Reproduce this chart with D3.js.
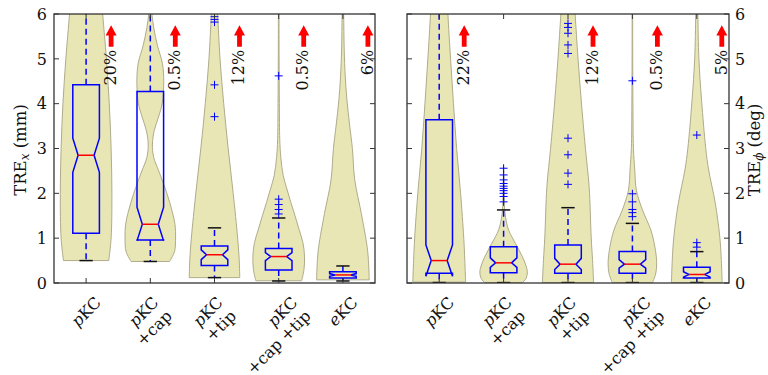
<!DOCTYPE html>
<html>
<head>
<meta charset="utf-8">
<script src="https://cdn.jsdelivr.net/npm/d3@7"></script>
<style>
  body { margin: 0; background: #fff; }
  svg { display: block; font-family: "DejaVu Serif", "Liberation Serif", serif; }
</style>
</head>
<body>
<div id="chart"></div>
<script>
// categories and labels
const categories = ["pKC", "pKC+cap", "pKC+tip", "pKC+cap+tip", "eKC"];
const labelLines = [["pKC"], ["pKC", "+cap"], ["pKC", "+tip"], ["pKC", "+cap +tip"], ["eKC"]];
const yTicks = [0, 1, 2, 3, 4, 5, 6];

// share of values beyond the top of the axis
const overX = ["20%", "0.5%", "12%", "0.5%", "6%"];
const overPhi = ["22%", "", "12%", "0.5%", "5%"];

// box stats: whisker low, q1, notch low, median, notch high, q3, whisker high
const boxX = [
  { lo: 0.5, q1: 1.11, nlo: 2.47, med: 2.85, nhi: 3.23, q3: 4.42, hi: 7.5 },
  { lo: 0.48, q1: 0.96, nlo: 0.94, med: 1.31, nhi: 1.69, q3: 4.27, hi: 7.5 },
  { lo: 0.12, q1: 0.39, nlo: 0.52, med: 0.63, nhi: 0.74, q3: 0.825, hi: 1.23 },
  { lo: 0.045, q1: 0.29, nlo: 0.5, med: 0.59, nhi: 0.68, q3: 0.77, hi: 1.45 },
  { lo: 0.045, q1: 0.11, nlo: 0.15, med: 0.18, nhi: 0.21, q3: 0.25, hi: 0.38 }
];
const boxPhi = [
  { lo: 0.01, q1: 0.22, nlo: 0.15, med: 0.5, nhi: 0.85, q3: 3.64, hi: 7.5 },
  { lo: 0.01, q1: 0.23, nlo: 0.35, med: 0.45, nhi: 0.56, q3: 0.81, hi: 1.63 },
  { lo: 0.01, q1: 0.22, nlo: 0.3, med: 0.42, nhi: 0.55, q3: 0.85, hi: 1.68 },
  { lo: 0.01, q1: 0.22, nlo: 0.33, med: 0.42, nhi: 0.52, q3: 0.7, hi: 1.33 },
  { lo: 0.01, q1: 0.11, nlo: 0.13, med: 0.19, nhi: 0.25, q3: 0.35, hi: 0.7 }
];

const outliersX = [
  [],
  [],
  [5.94, 5.88, 5.82, 4.42, 3.71],
  [4.62, 1.87, 1.75, 1.64, 1.54],
  []
];
const outliersPhi = [
  [],
  [2.56, 2.41, 2.3, 2.22, 2.16, 2.11, 2.06, 2.0, 1.93, 1.81],
  [5.79, 5.7, 5.57, 5.31, 5.12, 3.23, 2.86, 2.45, 2.2],
  [4.51, 1.99, 1.81, 1.64, 1.57, 1.48],
  [3.3, 0.9, 0.8]
];

// violin outlines: [value, relative half width]
const violinX = [
  [[0.5, 0.86], [1, 0.95], [2, 0.98], [3, 0.95], [4, 0.88], [5, 0.77], [6, 0.63], [6.5, 0.57]],
  [[0.48, 0.73], [0.7, 0.92], [1.0, 0.96], [1.3, 0.94], [1.6, 0.83], [2.0, 0.63], [2.5, 0.32], [2.8, 0.13],
   [3.1, 0.08], [3.4, 0.15], [3.7, 0.31], [4.0, 0.45], [4.5, 0.51], [4.9, 0.46], [5.3, 0.27], [5.7, 0.13],
   [6.0, 0.06], [6.3, 0.02]],
  [[0.12, 0.96], [0.5, 0.94], [1, 0.88], [2, 0.71], [3, 0.52], [4, 0.35], [5, 0.21], [6, 0.12], [6.5, 0.08]],
  [[0.05, 0.87], [0.3, 0.96], [0.6, 0.98], [0.9, 0.92], [1.2, 0.77], [1.5, 0.62], [1.8, 0.46], [2.1, 0.31],
   [2.4, 0.17], [2.8, 0.08], [3.2, 0.04], [4, 0.025], [5, 0.015], [6.5, 0.01]],
  [[0.07, 1.0], [0.5, 0.97], [0.81, 0.92], [1.55, 0.7], [2.3, 0.45], [3.0, 0.36], [3.5, 0.26], [4.1, 0.15],
   [4.6, 0.09], [5.2, 0.05], [6, 0.03], [6.5, 0.02]]
];
const violinPhi = [
  [[0.02, 1.0], [0.5, 0.97], [1, 0.93], [2, 0.81], [3, 0.66], [4, 0.54], [5, 0.43], [6, 0.33], [6.5, 0.3]],
  [[0.01, 0.72], [0.1, 0.85], [0.25, 0.9], [0.4, 0.84], [0.6, 0.7], [0.88, 0.45], [1.18, 0.19], [1.45, 0.08],
   [1.65, 0.04], [2.0, 0.02], [2.6, 0.005]],
  [[0.01, 0.97], [0.5, 0.93], [1, 0.88], [2.15, 0.8], [3, 0.66], [4.08, 0.5], [5, 0.38], [6, 0.27], [6.5, 0.22]],
  [[0.01, 0.76], [0.2, 0.88], [0.45, 0.92], [0.81, 0.85], [1.18, 0.7], [1.63, 0.38], [2.07, 0.15], [2.52, 0.09],
   [3, 0.04], [4, 0.02], [5, 0.012], [6.5, 0.01]],
  [[0.01, 0.96], [0.5, 0.93], [1.03, 0.87], [1.78, 0.7], [2.52, 0.45], [3.0, 0.34], [4.08, 0.18], [5, 0.08],
   [6, 0.04], [6.5, 0.03]]
];

const width = 768, height = 375;
const plotTop = 14, plotBottom = 283;
const boxHalf = 13.3;

const svg = d3.select("#chart").append("svg")
  .attr("width", width)
  .attr("height", height);

const y = d3.scaleLinear().domain([0, 6]).range([plotBottom, plotTop]);

function drawPanel(id, left, right, boxes, outliers, violins, over, yLabel, axisSide) {
  const x = d3.scalePoint().domain(categories).range([left, right]).padding(0.5);
  const wScale = d3.scaleLinear().domain([0, 1]).range([0, x.step() * 0.41]);

  svg.append("clipPath").attr("id", id)
    .append("rect")
    .attr("x", left).attr("y", plotTop)
    .attr("width", right - left).attr("height", plotBottom - plotTop);

  const g = svg.append("g").attr("clip-path", `url(#${id})`);

  // violins
  categories.forEach((c, i) => {
    const cx = x(c);
    const area = d3.area()
      .curve(d3.curveCatmullRom)
      .y(d => y(d[0]))
      .x0(d => cx - wScale(d[1]))
      .x1(d => cx + wScale(d[1]));
    g.append("path")
      .datum(violins[i])
      .attr("d", area)
      .attr("fill", "#e8e6b4")
      .attr("stroke", "#aeac8c")
      .attr("stroke-width", 1);
  });

  // boxes
  categories.forEach((c, i) => {
    const cx = x(c);
    const b = boxes[i];
    const inset = boxHalf * 0.6;

    // whiskers
    g.append("line")
      .attr("x1", cx).attr("x2", cx)
      .attr("y1", y(b.q3)).attr("y2", y(b.hi))
      .attr("stroke", "#0000ff").attr("stroke-width", 1.5)
      .attr("stroke-dasharray", "6,4");
    g.append("line")
      .attr("x1", cx).attr("x2", cx)
      .attr("y1", y(b.q1)).attr("y2", y(b.lo))
      .attr("stroke", "#0000ff").attr("stroke-width", 1.5)
      .attr("stroke-dasharray", "6,4");

    // caps
    [b.lo, b.hi].forEach(v => {
      g.append("line")
        .attr("x1", cx - boxHalf * 0.5).attr("x2", cx + boxHalf * 0.5)
        .attr("y1", y(v)).attr("y2", y(v))
        .attr("stroke", "#111").attr("stroke-width", 1.5);
    });

    // notched box
    const pts = [
      [cx - boxHalf, y(b.q1)], [cx - boxHalf, y(b.nlo)], [cx - inset, y(b.med)],
      [cx - boxHalf, y(b.nhi)], [cx - boxHalf, y(b.q3)], [cx + boxHalf, y(b.q3)],
      [cx + boxHalf, y(b.nhi)], [cx + inset, y(b.med)], [cx + boxHalf, y(b.nlo)],
      [cx + boxHalf, y(b.q1)]
    ];
    g.append("path")
      .attr("d", d3.line()(pts) + "Z")
      .attr("fill", "none")
      .attr("stroke", "#0000ff")
      .attr("stroke-width", 1.5);

    g.append("line")
      .attr("x1", cx - inset).attr("x2", cx + inset)
      .attr("y1", y(b.med)).attr("y2", y(b.med))
      .attr("stroke", "#ff0000").attr("stroke-width", 1.5);

    // outliers
    outliers[i].forEach(v => {
      const py = y(v);
      g.append("path")
        .attr("d", `M${cx - 4},${py}H${cx + 4}M${cx},${py - 4}V${py + 4}`)
        .attr("stroke", "#0000ff").attr("stroke-width", 1)
        .attr("fill", "none");
    });
  });

  // arrows and percentages
  categories.forEach((c, i) => {
    if (!over[i]) return;
    const ax = x(c) + 25;
    const yTip = y(5.75), yBase = y(5.27), yHead = y(5.52);
    svg.append("path")
      .attr("d", `M${ax - 2.4},${yBase}V${yHead}H${ax - 5.5}L${ax},${yTip}L${ax + 5.5},${yHead}H${ax + 2.4}V${yBase}Z`)
      .attr("fill", "#ff0000");
    svg.append("text")
      .attr("transform", `translate(${ax - 1},${y(5.2)}) rotate(-90)`)
      .attr("dy", "0.36em")
      .attr("text-anchor", "end")
      .attr("font-size", 16)
      .attr("fill", "#111")
      .text(over[i]);
  });

  // frame
  svg.append("rect")
    .attr("x", left).attr("y", plotTop)
    .attr("width", right - left).attr("height", plotBottom - plotTop)
    .attr("fill", "none").attr("stroke", "#333").attr("stroke-width", 1.3);

  // inward ticks
  const tickLen = 5;
  yTicks.forEach(t => {
    svg.append("line").attr("x1", left).attr("x2", left + tickLen)
      .attr("y1", y(t)).attr("y2", y(t)).attr("stroke", "#333");
    svg.append("line").attr("x1", right).attr("x2", right - tickLen)
      .attr("y1", y(t)).attr("y2", y(t)).attr("stroke", "#333");
  });
  categories.forEach(c => {
    svg.append("line").attr("x1", x(c)).attr("x2", x(c))
      .attr("y1", plotBottom).attr("y2", plotBottom - tickLen).attr("stroke", "#333");
    svg.append("line").attr("x1", x(c)).attr("x2", x(c))
      .attr("y1", plotTop).attr("y2", plotTop + tickLen).attr("stroke", "#333");
  });

  // y tick labels
  yTicks.forEach(t => {
    svg.append("text")
      .attr("x", axisSide === "left" ? left - 7 : right + 6)
      .attr("y", y(t))
      .attr("dy", "0.36em")
      .attr("text-anchor", axisSide === "left" ? "end" : "start")
      .attr("font-size", 16)
      .attr("fill", "#111")
      .text(t);
  });

  // x tick labels, each line its own text rotated 45 about its anchor
  const lineGap = 19;
  const s = Math.SQRT1_2;
  categories.forEach((c, i) => {
    const outer = svg.append("g");
    labelLines[i].forEach((line, k) => {
      const t = outer.append("text")
        .attr("transform", `translate(${k * lineGap * s},${k * lineGap * s}) rotate(-45)`)
        .attr("text-anchor", "end")
        .attr("font-size", 16)
        .attr("fill", "#111");
      if (k === 0) {
        t.append("tspan").attr("font-style", "italic").text(line[0]);
        t.append("tspan").text(line.slice(1));
      } else {
        t.text(line);
      }
    });
    const bb = outer.node().getBBox();
    outer.attr("transform", `translate(${x(c) - (bb.x + bb.width / 2)},${293 - bb.y})`);
  });

  // y axis label
  const lx = axisSide === "left" ? 20 : 754;
  const lab = svg.append("text")
    .attr("transform", `translate(${lx},150) rotate(-90)`)
    .attr("text-anchor", "middle")
    .attr("dy", "0.36em")
    .attr("font-size", 16.5)
    .attr("fill", "#111");
  lab.append("tspan").text("TRE");
  lab.append("tspan").attr("font-style", "italic").attr("font-size", 12).attr("dy", 3).text(yLabel);
  lab.append("tspan").attr("dy", -3).text(axisSide === "left" ? " (mm)" : " (deg)");
}

drawPanel("clipX", 54, 375, boxX, outliersX, violinX, overX, "x", "left");
drawPanel("clipPhi", 407, 729, boxPhi, outliersPhi, violinPhi, overPhi, "ϕ", "right");
</script>
</body>
</html>
